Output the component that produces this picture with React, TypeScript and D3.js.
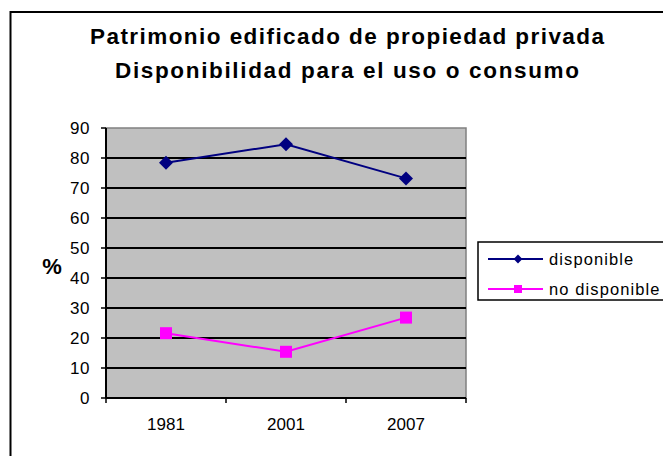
import React from 'react';
import * as d3 from 'd3';

const years = ['1981', '2001', '2007'];
const disponible = [78.4, 84.6, 73.2];
const noDisponible = [21.6, 15.4, 26.8];
const yTicks = [0, 10, 20, 30, 40, 50, 60, 70, 80, 90];
const titleLines = ['Patrimonio edificado de propiedad privada', 'Disponibilidad para el uso o consumo'];
const seriesNames = ['disponible', 'no disponible'];

const font = 'Liberation Sans, Arial, sans-serif';

export default function App() {
  const plot = { left: 106, top: 128, right: 466, bottom: 398 };

  const x = d3.scaleBand().domain(years).range([plot.left, plot.right]).padding(0);
  const y = d3.scaleLinear().domain([0, 90]).range([plot.bottom, plot.top]);
  const cx = (d: string) => (x(d) as number) + x.bandwidth() / 2;

  const line = d3.line<number>()
    .x((_, i) => cx(years[i]))
    .y((d) => y(d));

  const diamond = d3.symbol().type(d3.symbolDiamond2);
  const bigDiamond = diamond.size(125)() as string;
  const smallDiamond = diamond.size(50)() as string;

  const boundaries = [...years.map((d) => x(d) as number), plot.right];

  return (
    <svg width={663} height={456} style={{ position: 'absolute', left: 0, top: 0, background: '#fff' }}>
      <rect x={10.5} y={12} width={700} height={500} fill="#fff" stroke="#000" strokeWidth={2} />

      {titleLines.map((t, i) => (
        <text key={t} x={347} y={i === 0 ? 44 : 78} textAnchor="middle" fontFamily={font}
          fontWeight="bold" fontSize={22.5} textLength={i === 0 ? 514 : 464} lengthAdjust="spacing">{t}</text>
      ))}

      <rect x={plot.left} y={plot.top} width={plot.right - plot.left} height={plot.bottom - plot.top}
        fill="#c0c0c0" stroke="#808080" strokeWidth={1.5} />

      {yTicks.filter((t) => t > 0 && t < 90).map((t) => (
        <line key={t} x1={plot.left} x2={plot.right} y1={y(t)} y2={y(t)} stroke="#000" strokeWidth={2} />
      ))}

      {/* y axis */}
      <line x1={plot.left} x2={plot.left} y1={plot.top} y2={plot.bottom} stroke="#000" strokeWidth={2} />
      {yTicks.map((t) => (
        <g key={t}>
          <line x1={plot.left - 5} x2={plot.left} y1={y(t)} y2={y(t)} stroke="#000" strokeWidth={1.5} />
          <text x={90} y={y(t) + 6} textAnchor="end" fontFamily={font} fontSize={17} letterSpacing={0.5}>{t}</text>
        </g>
      ))}
      <text x={52} y={274} textAnchor="middle" fontFamily={font} fontWeight="bold" fontSize={22}>%</text>

      {/* x axis */}
      <line x1={plot.left} x2={plot.right} y1={plot.bottom} y2={plot.bottom} stroke="#000" strokeWidth={2} />
      {boundaries.map((b, i) => (
        <line key={i} x1={b} x2={b} y1={plot.bottom} y2={plot.bottom + 5} stroke="#000" strokeWidth={1.5} />
      ))}
      {years.map((d) => (
        <text key={d} x={cx(d)} y={430} textAnchor="middle" fontFamily={font} fontSize={17}>{d}</text>
      ))}

      {/* series */}
      <path d={line(disponible) as string} fill="none" stroke="#000080" strokeWidth={2} />
      {disponible.map((v, i) => (
        <path key={i} d={bigDiamond} transform={`translate(${cx(years[i])},${y(v)})`} fill="#000080" />
      ))}
      <path d={line(noDisponible) as string} fill="none" stroke="#ff00ff" strokeWidth={2} />
      {noDisponible.map((v, i) => (
        <rect key={i} x={cx(years[i]) - 6} y={y(v) - 6} width={12} height={12} fill="#ff00ff" />
      ))}

      {/* legend */}
      <rect x={478} y={242} width={250} height={58} fill="#fff" stroke="#000" strokeWidth={1.5} />
      {seriesNames.map((s, i) => {
        const ly = i === 0 ? 259 : 289;
        const color = i === 0 ? '#000080' : '#ff00ff';
        return (
          <g key={s}>
            <line x1={488} x2={543} y1={ly} y2={ly} stroke={color} strokeWidth={2} />
            {i === 0
              ? <path d={smallDiamond} transform={`translate(518,${ly})`} fill={color} />
              : <rect x={514} y={ly - 4} width={8} height={8} fill={color} />}
            <text x={549} y={ly + 6} fontFamily={font} fontSize={16.5} letterSpacing={1.1}>{s}</text>
          </g>
        );
      })}
    </svg>
  );
}
